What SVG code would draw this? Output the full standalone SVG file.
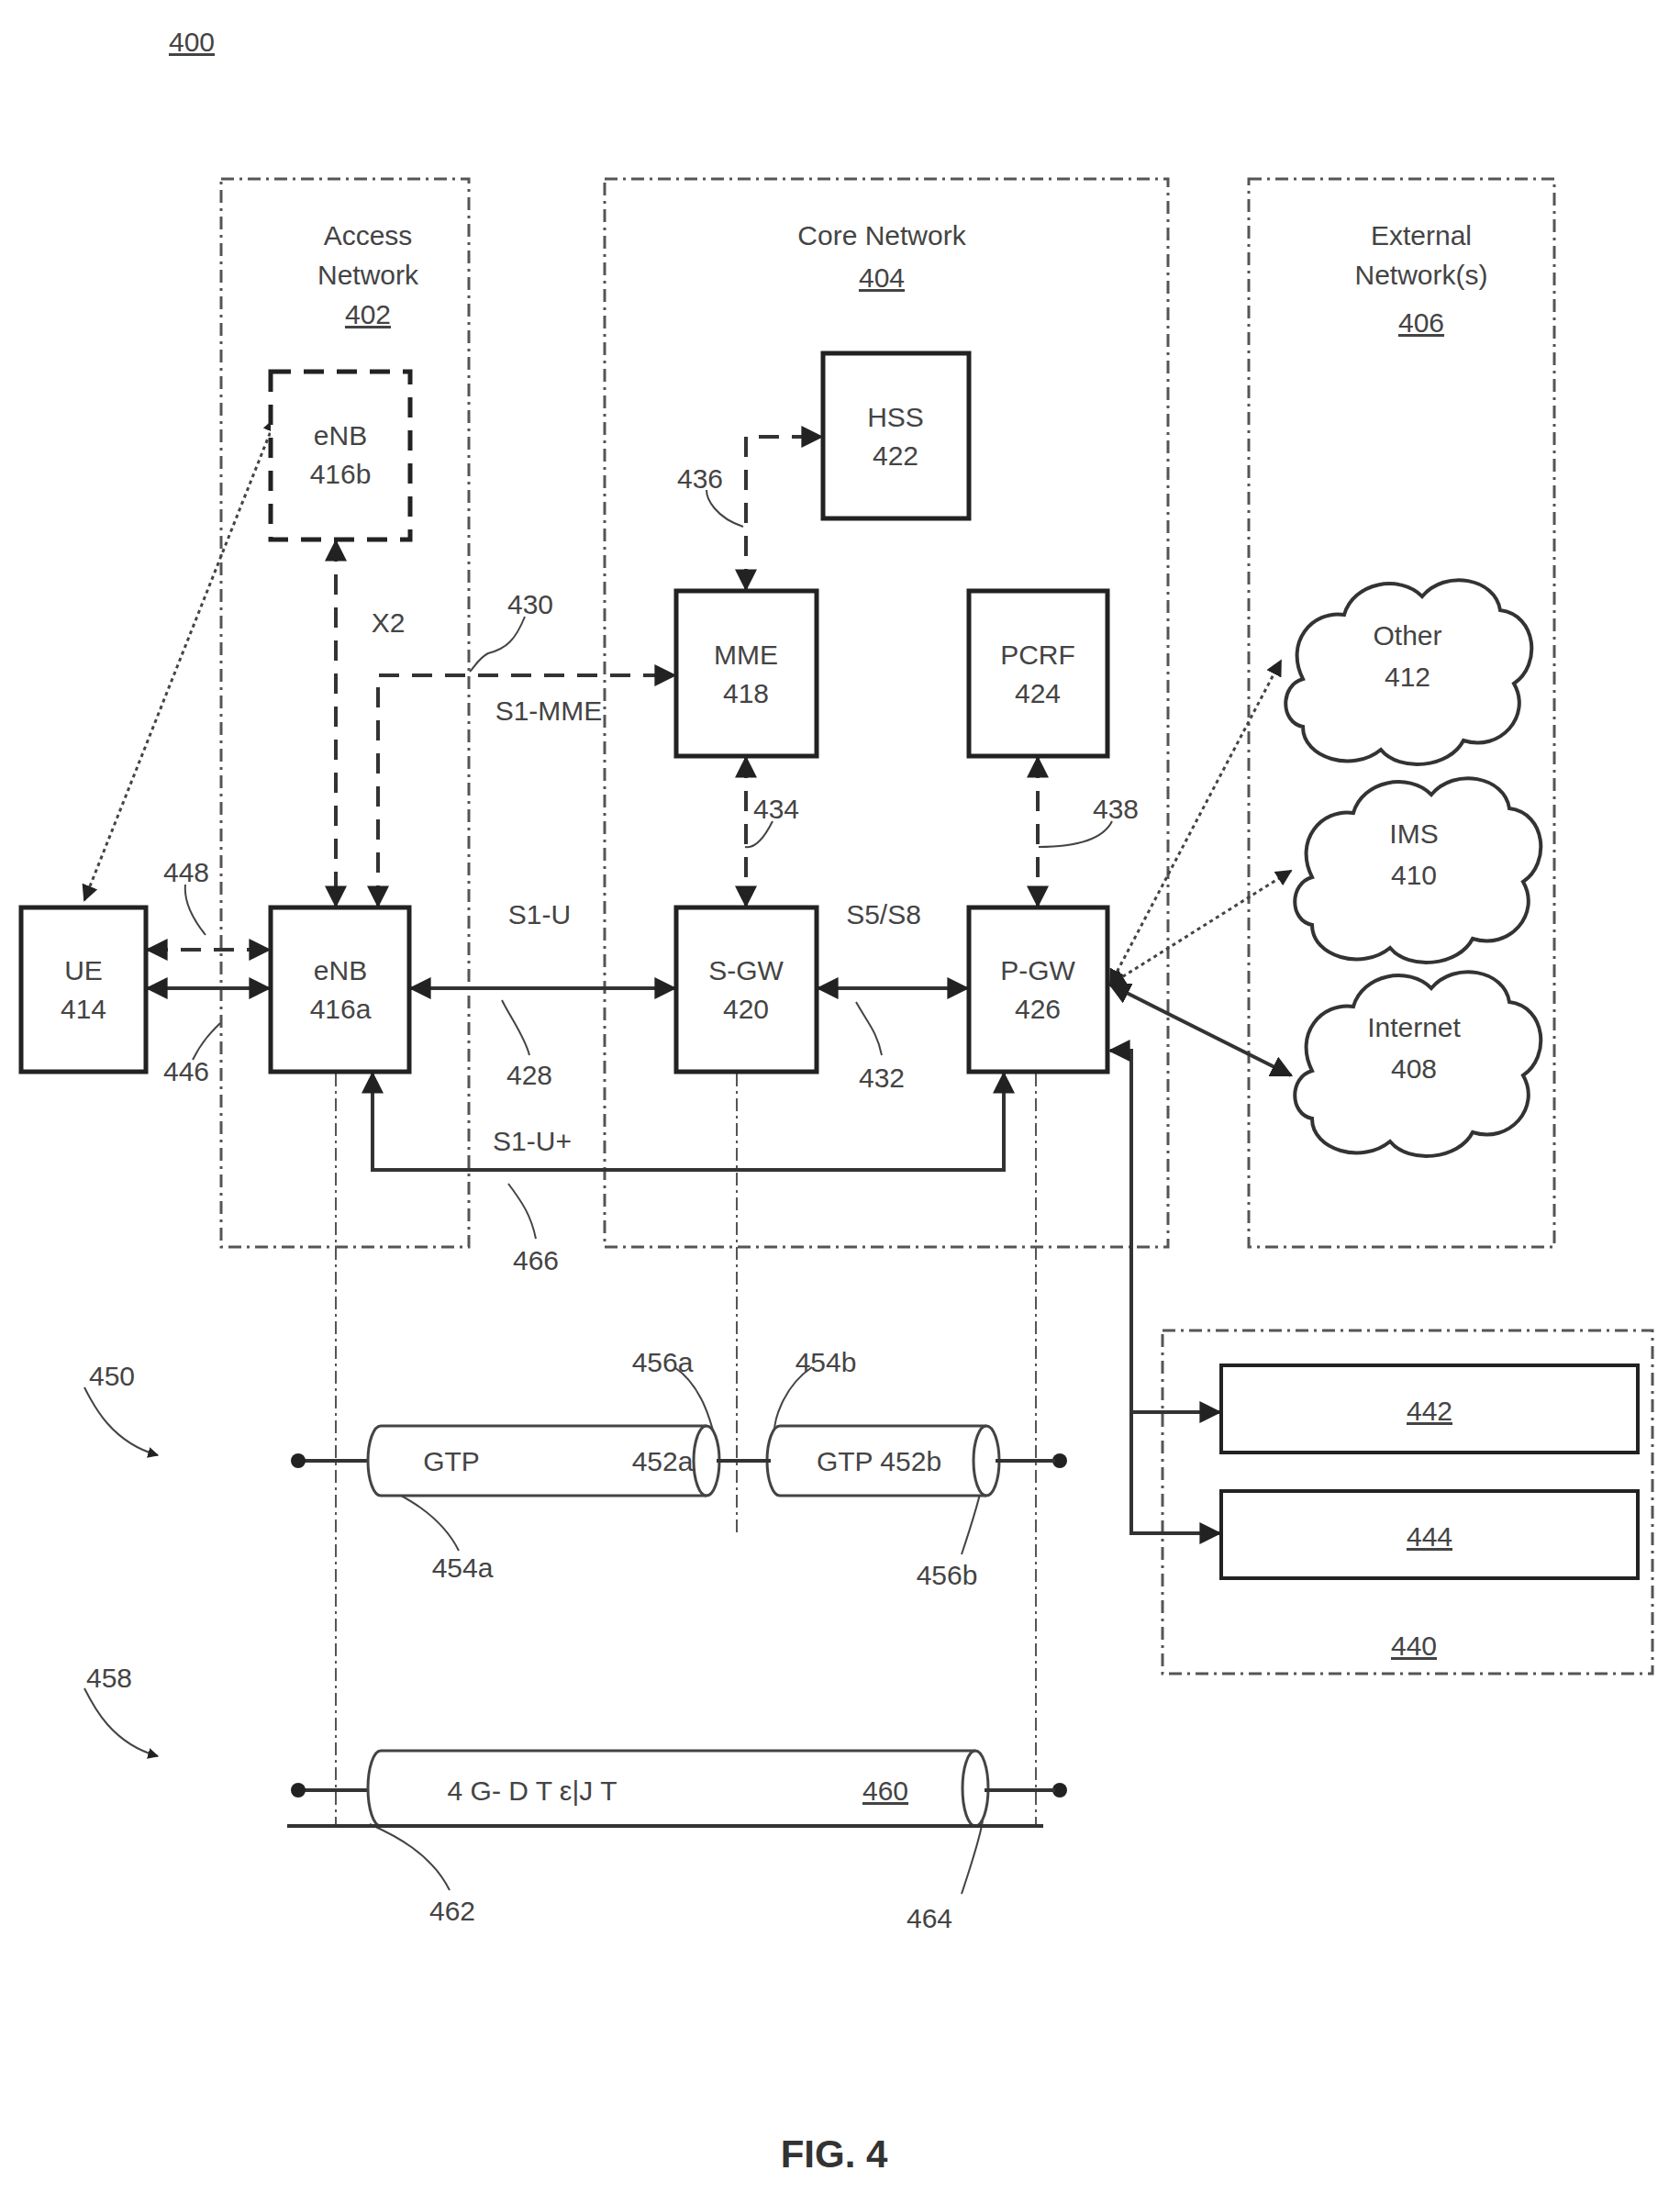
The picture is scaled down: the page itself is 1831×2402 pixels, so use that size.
<svg xmlns="http://www.w3.org/2000/svg" width="1831" height="2402" viewBox="0 0 1831 2402">
<style>
text{font-family:"Liberation Sans",Arial,sans-serif;font-size:30px;fill:#444;text-anchor:middle}
.box{fill:#fff;stroke:#222;stroke-width:5}
.grp{fill:none;stroke:#555;stroke-width:3;stroke-dasharray:14 6 3 6}
.sol{fill:none;stroke:#333;stroke-width:4}
.dash{fill:none;stroke:#333;stroke-width:4;stroke-dasharray:22 14}
.dot{fill:none;stroke:#444;stroke-width:3;stroke-dasharray:4 4}
.dd{fill:none;stroke:#555;stroke-width:2;stroke-dasharray:14 5 3 5}
.lead{fill:none;stroke:#444;stroke-width:2}
.cloud{fill:#fff;stroke:#333;stroke-width:4}
</style>
<defs>
<marker id="a" viewBox="0 0 10 10" refX="9" refY="5" markerWidth="6" markerHeight="6" orient="auto-start-reverse"><path d="M0,0L10,5L0,10z" fill="#222"/></marker>
</defs>
<text x="209" y="56" style="text-decoration:underline">400</text>
<g id="groups">
<rect class="grp" x="241" y="195" width="270" height="1164"/>
<rect class="grp" x="659" y="195" width="614" height="1164"/>
<rect class="grp" x="1361" y="195" width="333" height="1164"/>
<rect class="grp" x="1267" y="1450" width="534" height="374"/>
<text x="401" y="267">Access</text><text x="401" y="310">Network</text><text x="401" y="353" style="text-decoration:underline">402</text>
<text x="961" y="267">Core Network</text><text x="961" y="313" style="text-decoration:underline">404</text>
<text x="1549" y="267">External</text><text x="1549" y="310">Network(s)</text><text x="1549" y="362" style="text-decoration:underline">406</text>
<text x="1541" y="1804" style="text-decoration:underline">440</text>
</g>
<g id="connectors">
<line class="dot" x1="92" y1="981" x2="301" y2="455" marker-start="url(#a)" marker-end="url(#a)"/>
<line class="dash" x1="161" y1="1035" x2="293" y2="1035" marker-start="url(#a)" marker-end="url(#a)"/>
<line class="sol" x1="161" y1="1077" x2="293" y2="1077" marker-start="url(#a)" marker-end="url(#a)"/>
<line class="dash" x1="366" y1="590" x2="366" y2="987" marker-start="url(#a)" marker-end="url(#a)"/>
<path class="dash" d="M412,987V736H735" marker-start="url(#a)" marker-end="url(#a)"/>
<path class="dash" d="M813,642V476H895" marker-start="url(#a)" marker-end="url(#a)"/>
<line class="dash" x1="813" y1="826" x2="813" y2="987" marker-start="url(#a)" marker-end="url(#a)"/>
<line class="dash" x1="1131" y1="826" x2="1131" y2="987" marker-start="url(#a)" marker-end="url(#a)"/>
<line class="sol" x1="448" y1="1077" x2="735" y2="1077" marker-start="url(#a)" marker-end="url(#a)"/>
<line class="sol" x1="892" y1="1077" x2="1054" y2="1077" marker-start="url(#a)" marker-end="url(#a)"/>
<path class="sol" d="M406,1170V1275H1094V1170" marker-start="url(#a)" marker-end="url(#a)"/>
<line class="dot" x1="1210" y1="1073" x2="1396" y2="720" marker-start="url(#a)" marker-end="url(#a)"/>
<line class="dot" x1="1210" y1="1073" x2="1407" y2="949" marker-start="url(#a)" marker-end="url(#a)"/>
<line class="sol" x1="1210" y1="1073" x2="1407" y2="1172" marker-start="url(#a)" marker-end="url(#a)"/>
<path class="sol" d="M1210,1145H1233V1671H1329" marker-start="url(#a)" marker-end="url(#a)"/>
<path class="sol" d="M1233,1539H1329" marker-end="url(#a)"/>
<line class="dd" x1="366" y1="1170" x2="366" y2="1990"/>
<line class="dd" x1="803" y1="1170" x2="803" y2="1675"/>
<line class="dd" x1="1129" y1="1170" x2="1129" y2="1990"/>
<path class="lead" d="M202,964c-2,20 10,40 22,55"/>
<path class="lead" d="M210,1155c10,-20 20,-30 30,-40"/>
<path class="lead" d="M572,672c-10,25 -20,35 -40,40c-10,5 -15,15 -20,20"/>
<path class="lead" d="M770,534c0,10 10,30 40,40"/>
<path class="lead" d="M842,895c-10,20 -20,30 -30,28"/>
<path class="lead" d="M1212,895c-10,20 -40,28 -80,28"/>
<path class="lead" d="M577,1150c-5,-20 -20,-40 -30,-60"/>
<path class="lead" d="M961,1150c-5,-25 -15,-35 -28,-58"/>
<path class="lead" d="M584,1350c-5,-25 -15,-40 -30,-60"/>
<path class="lead" d="M92,1512c10,20 30,60 80,74" marker-end="url(#a)"/>
<path class="lead" d="M92,1840c10,20 30,60 80,74" marker-end="url(#a)"/>
<path class="lead" d="M735,1490c30,20 40,60 45,80"/>
<path class="lead" d="M885,1490c-30,20 -45,60 -40,80"/>
<path class="lead" d="M500,1690c-20,-40 -60,-60 -95,-76"/>
<path class="lead" d="M1048,1694c10,-30 20,-60 23,-80"/>
<path class="lead" d="M490,2060c-20,-40 -60,-60 -87,-72"/>
<path class="lead" d="M1048,2064c10,-30 20,-60 23,-80"/>
</g>
<g id="ue"><rect class="box" x="23" y="989" width="136" height="179"/><text x="91" y="1068">UE</text><text x="91" y="1110">414</text></g>
<g id="enb416b"><rect class="box" x="295" y="405" width="152" height="183" style="stroke-dasharray:22 14"/><text x="371" y="485">eNB</text><text x="371" y="527">416b</text></g>
<g id="enb416a"><rect class="box" x="295" y="989" width="151" height="179"/><text x="371" y="1068">eNB</text><text x="371" y="1110">416a</text></g>
<g id="hss"><rect class="box" x="897" y="385" width="159" height="180"/><text x="976" y="465">HSS</text><text x="976" y="507">422</text></g>
<g id="mme"><rect class="box" x="737" y="644" width="153" height="180"/><text x="813" y="724">MME</text><text x="813" y="766">418</text></g>
<g id="pcrf"><rect class="box" x="1056" y="644" width="151" height="180"/><text x="1131" y="724">PCRF</text><text x="1131" y="766">424</text></g>
<g id="sgw"><rect class="box" x="737" y="989" width="153" height="179"/><text x="813" y="1068">S-GW</text><text x="813" y="1110">420</text></g>
<g id="pgw"><rect class="box" x="1056" y="989" width="151" height="179"/><text x="1131" y="1068">P-GW</text><text x="1131" y="1110">426</text></g>
<g id="clouds">
<path class="cloud" d="M1420,740c-20,-40 10,-75 45,-70c10,-35 60,-45 85,-20c25,-30 80,-20 85,15c40,5 45,60 15,80c20,35 -15,75 -55,62c-15,30 -70,35 -90,10c-30,25 -85,10 -85,-25c-25,-5 -25,-45 0,-52z"/>
<text x="1534" y="703">Other</text><text x="1534" y="748">412</text>
<path class="cloud" d="M1430,956c-20,-40 10,-75 45,-70c10,-35 60,-45 85,-20c25,-30 80,-20 85,15c40,5 45,60 15,80c20,35 -15,75 -55,62c-15,30 -70,35 -90,10c-30,25 -85,10 -85,-25c-25,-5 -25,-45 0,-52z"/>
<text x="1541" y="919">IMS</text><text x="1541" y="964">410</text>
<path class="cloud" d="M1430,1167c-20,-40 10,-75 45,-70c10,-35 60,-45 85,-20c25,-30 80,-20 85,15c40,5 45,60 15,80c20,35 -15,75 -55,62c-15,30 -70,35 -90,10c-30,25 -85,10 -85,-25c-25,-5 -25,-45 0,-52z"/>
<text x="1541" y="1130">Internet</text><text x="1541" y="1175">408</text>
</g>
<g id="b442"><rect class="box" x="1331" y="1488" width="454" height="95" style="stroke-width:4"/><text x="1558" y="1548" style="text-decoration:underline">442</text></g>
<g id="b444"><rect class="box" x="1331" y="1625" width="454" height="95" style="stroke-width:4"/><text x="1558" y="1685" style="text-decoration:underline">444</text></g>
<g id="tunnels">
<line class="sol" x1="325" y1="1592" x2="1155" y2="1592"/>
<circle cx="325" cy="1592" r="8" fill="#222"/><circle cx="1155" cy="1592" r="8" fill="#222"/>
<path d="M415,1554H770A14,38 0 0 1 770,1630H415A14,38 0 0 1 415,1554z" fill="#fff" stroke="#444" stroke-width="3"/>
<path d="M770,1554A14,38 0 0 0 770,1630" fill="none" stroke="#444" stroke-width="3"/>
<path d="M850,1554H1075A14,38 0 0 1 1075,1630H850A14,38 0 0 1 850,1554z" fill="#fff" stroke="#444" stroke-width="3"/>
<path d="M1075,1554A14,38 0 0 0 1075,1630" fill="none" stroke="#444" stroke-width="3"/>
<line class="sol" x1="781" y1="1592" x2="840" y2="1592"/>
<line class="sol" x1="1085" y1="1592" x2="1150" y2="1592"/>
<text x="492" y="1603">GTP</text><text x="722" y="1603">452a</text><text x="958" y="1603">GTP 452b</text>
<line class="sol" x1="325" y1="1951" x2="1155" y2="1951"/>
<circle cx="325" cy="1951" r="8" fill="#222"/><circle cx="1155" cy="1951" r="8" fill="#222"/>
<path d="M415,1908H1063A14,41 0 0 1 1063,1990H415A14,41 0 0 1 415,1908z" fill="#fff" stroke="#444" stroke-width="3"/>
<path d="M1063,1908A14,41 0 0 0 1063,1990" fill="none" stroke="#444" stroke-width="3"/>
<line class="sol" x1="1073" y1="1951" x2="1150" y2="1951"/>
<line class="sol" x1="313" y1="1990" x2="1137" y2="1990"/>
<text x="580" y="1962">4 G- D T  ԑ|J T</text><text x="965" y="1962" style="text-decoration:underline">460</text>
</g>
<g id="labels">
<text x="423" y="689">X2</text><text x="578" y="669">430</text><text x="598" y="785">S1-MME</text>
<text x="763" y="532">436</text><text x="846" y="892">434</text><text x="1216" y="892">438</text>
<text x="203" y="961">448</text><text x="203" y="1178">446</text>
<text x="588" y="1007">S1-U</text><text x="577" y="1182">428</text>
<text x="963" y="1007">S5/S8</text><text x="961" y="1185">432</text>
<text x="580" y="1254">S1-U+</text><text x="584" y="1384">466</text>
<text x="122" y="1510">450</text><text x="119" y="1839">458</text>
<text x="722" y="1495">456a</text><text x="900" y="1495">454b</text>
<text x="504" y="1719">454a</text><text x="1032" y="1727">456b</text>
<text x="493" y="2093">462</text><text x="1013" y="2101">464</text>
<text x="909" y="2362" style="font-size:42px;font-weight:bold;fill:#333">FIG. 4</text>
</g>
</svg>
